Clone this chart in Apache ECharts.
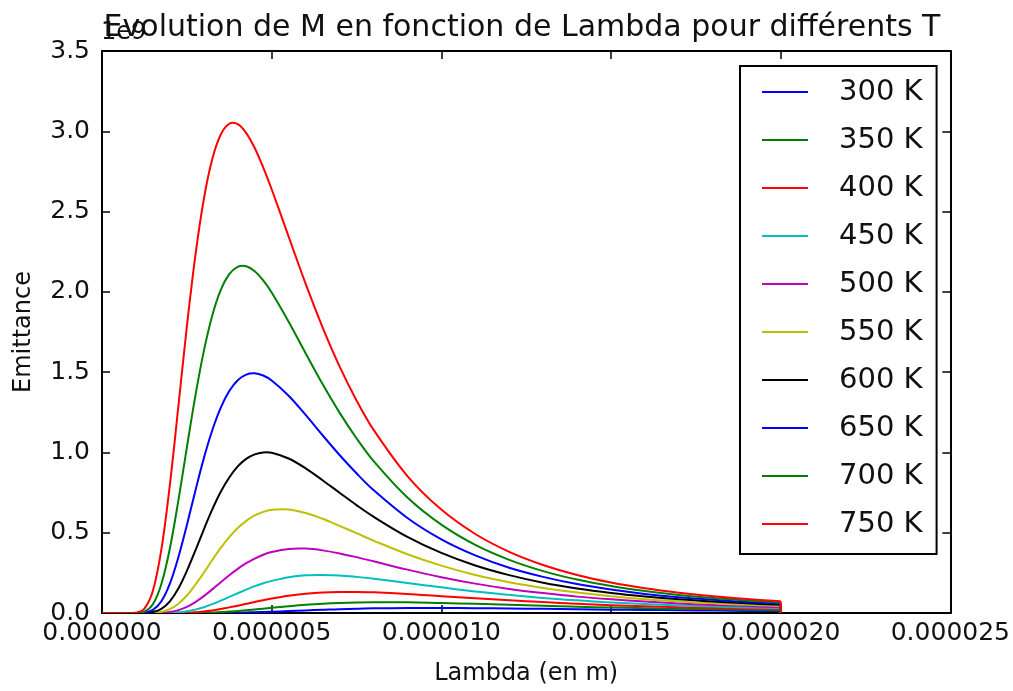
<!DOCTYPE html>
<html>
<head>
<meta charset="utf-8">
<script src="https://cdn.jsdelivr.net/npm/echarts@6/dist/echarts.min.js"></script>
<style>
  html, body { margin: 0; padding: 0; background: #fff; }
  #main { width: 1013px; height: 691px; }
</style>
</head>
<body>
<div id="main"></div>
<script>
// wavelength in micrometres (axis labels are shown in metres)
var lambdaUm = [0, 0.5, 1, 1.25, 1.5, 1.75, 2, 2.25, 2.5, 2.75, 3, 3.25, 3.5, 3.75, 4, 4.25, 4.5, 4.75, 5,
  5.5, 6, 6.5, 7, 7.5, 8, 9, 10, 11, 12, 13, 14, 15, 16, 17, 18, 19, 20, 20];

// emittance, in units of 1e9
var m300 = [0, 0, 0, 0, 0, 0, 0, 0, 0, 0, 0, 0, 0.001, 0.001, 0.002, 0.003, 0.005, 0.006, 0.008,
  0.012, 0.016, 0.020, 0.024, 0.026, 0.029, 0.031, 0.031, 0.030, 0.028, 0.026, 0.023, 0.021, 0.019, 0.017, 0.015, 0.013, 0.012, 0];
var m350 = [0, 0, 0, 0, 0, 0, 0, 0, 0, 0.001, 0.002, 0.003, 0.006, 0.009, 0.013, 0.017, 0.022, 0.027, 0.032,
  0.042, 0.051, 0.058, 0.063, 0.066, 0.067, 0.067, 0.062, 0.057, 0.051, 0.045, 0.039, 0.034, 0.030, 0.026, 0.023, 0.020, 0.017, 0];
var m400 = [0, 0, 0, 0, 0, 0, 0, 0.001, 0.002, 0.005, 0.010, 0.016, 0.025, 0.035, 0.045, 0.057, 0.069, 0.080, 0.090,
  0.108, 0.120, 0.128, 0.131, 0.131, 0.129, 0.119, 0.105, 0.092, 0.079, 0.068, 0.058, 0.049, 0.042, 0.036, 0.031, 0.027, 0.023, 0];
var m450 = [0, 0, 0, 0, 0, 0, 0.001, 0.004, 0.011, 0.021, 0.036, 0.055, 0.077, 0.100, 0.123, 0.146, 0.167, 0.185, 0.200,
  0.223, 0.235, 0.237, 0.234, 0.225, 0.214, 0.187, 0.160, 0.134, 0.113, 0.094, 0.079, 0.066, 0.056, 0.047, 0.040, 0.035, 0.030, 0];
var m500 = [0, 0, 0, 0, 0, 0.002, 0.007, 0.018, 0.038, 0.068, 0.105, 0.147, 0.192, 0.235, 0.275, 0.310, 0.339, 0.363, 0.380,
  0.399, 0.401, 0.390, 0.371, 0.348, 0.322, 0.270, 0.223, 0.183, 0.150, 0.124, 0.102, 0.085, 0.071, 0.059, 0.050, 0.043, 0.036, 0];
var m550 = [0, 0, 0, 0, 0.001, 0.007, 0.024, 0.058, 0.109, 0.176, 0.251, 0.330, 0.405, 0.472, 0.529, 0.574, 0.608, 0.630, 0.643,
  0.645, 0.623, 0.587, 0.543, 0.497, 0.451, 0.366, 0.295, 0.237, 0.192, 0.156, 0.127, 0.104, 0.086, 0.072, 0.060, 0.051, 0.043, 0];
var m600 = [0, 0, 0, 0.001, 0.006, 0.026, 0.073, 0.153, 0.262, 0.389, 0.520, 0.645, 0.755, 0.844, 0.913, 0.960, 0.988, 1.000, 0.998,
  0.962, 0.901, 0.827, 0.749, 0.672, 0.600, 0.474, 0.374, 0.296, 0.236, 0.189, 0.153, 0.125, 0.103, 0.085, 0.071, 0.060, 0.051, 0];
var m650 = [0, 0, 0, 0.003, 0.019, 0.073, 0.183, 0.347, 0.547, 0.760, 0.963, 1.138, 1.279, 1.382, 1.450, 1.485, 1.493, 1.479, 1.448,
  1.353, 1.234, 1.107, 0.984, 0.870, 0.766, 0.592, 0.459, 0.359, 0.282, 0.225, 0.180, 0.146, 0.119, 0.098, 0.082, 0.069, 0.058, 0];
var m700 = [0, 0, 0, 0.009, 0.055, 0.181, 0.402, 0.700, 1.030, 1.351, 1.631, 1.853, 2.012, 2.110, 2.156, 2.159, 2.128, 2.071, 1.996,
  1.814, 1.618, 1.426, 1.248, 1.088, 0.947, 0.719, 0.550, 0.424, 0.331, 0.261, 0.208, 0.168, 0.137, 0.112, 0.093, 0.078, 0.065, 0];
var m750 = [0, 0, 0.002, 0.027, 0.138, 0.396, 0.798, 1.286, 1.782, 2.224, 2.577, 2.827, 2.980, 3.047, 3.044, 2.989, 2.896, 2.775, 2.639,
  2.344, 2.051, 1.779, 1.536, 1.324, 1.142, 0.853, 0.644, 0.492, 0.381, 0.299, 0.237, 0.190, 0.154, 0.126, 0.104, 0.087, 0.073, 0];

var names = ['300 K', '350 K', '400 K', '450 K', '500 K', '550 K', '600 K', '650 K', '700 K', '750 K'];
var values = [m300, m350, m400, m450, m500, m550, m600, m650, m700, m750];
var colors = ['#0000ff', '#008000', '#ff0000', '#00bfbf', '#bf00bf', '#bfbf00', '#000000', '#0000ff', '#008000', '#ff0000'];

var FONT = 'DejaVu Sans';

// each curve is one custom item: a spline through the points (via the axes),
// plus the straight drop to zero at the end of the range
function curve(vals, color) {
  return function (params, api) {
    var pts = lambdaUm.map(function (x, j) { return api.coord([x, vals[j]]); });
    var n = pts.length;
    return {
      type: 'group',
      children: [{
        type: 'polyline',
        shape: { points: pts.slice(0, n - 1), smooth: 0.35 },
        style: { stroke: color, lineWidth: 2, fill: null, lineJoin: 'round' }
      }, {
        type: 'line',
        shape: { x1: pts[n - 2][0], y1: pts[n - 2][1], x2: pts[n - 1][0], y2: pts[n - 1][1] },
        style: { stroke: color, lineWidth: 2 }
      }]
    };
  };
}

var series = names.map(function (n, i) {
  return {
    name: n,
    type: 'custom',
    coordinateSystem: 'cartesian2d',
    clip: true,
    silent: true,
    animation: false,
    itemStyle: { color: colors[i] },
    renderItem: curve(values[i], colors[i]),
    data: [[0, 0]]
  };
});

var tick = { show: true, inside: true, length: 8, lineStyle: { color: '#000', width: 1.5 } };
var line = { show: true, onZero: false, lineStyle: { color: '#000', width: 2 } };

var chart = echarts.init(document.getElementById('main'));
chart.setOption({
  backgroundColor: '#fff',
  animation: false,
  title: {
    text: 'Evolution de M en fonction de Lambda pour différents T',
    left: 517,
    textAlign: 'center',
    top: 8,
    textStyle: { fontFamily: FONT, fontSize: 30, fontWeight: 'normal', color: '#111' }
  },
  graphic: [{
    type: 'text', left: 101, top: 21,
    style: { text: '1e9', fontFamily: FONT, fontSize: 24, fill: '#111' }
  }],
  legend: {
    orient: 'vertical',
    left: 740,
    top: 66,
    icon: 'rect',
    itemWidth: 46,
    itemHeight: 2,
    itemGap: 18,
    padding: [11, 14, 15, 22],
    borderColor: '#000',
    borderWidth: 2,
    backgroundColor: '#fff',
    data: names,
    textStyle: { fontFamily: FONT, fontSize: 29, color: '#111', lineHeight: 30, padding: [0, 0, 0, 26] }
  },
  grid: { left: 102, right: 60, top: 51, bottom: 74, containLabel: false },
  xAxis: [{
    type: 'value', min: 0, max: 25, interval: 5,
    name: 'Lambda (en m)', nameLocation: 'middle', nameGap: 49,
    nameTextStyle: { fontFamily: FONT, fontSize: 24, color: '#111' },
    axisLine: line, axisTick: tick, splitLine: { show: false },
    axisLabel: {
      margin: 8, fontFamily: FONT, fontSize: 25, color: '#111',
      formatter: function (v) { return (v * 1e-6).toFixed(6); }
    }
  }, {
    type: 'value', min: 0, max: 25, interval: 5, position: 'top',
    axisLine: line, axisTick: tick, splitLine: { show: false }, axisLabel: { show: false }
  }],
  yAxis: [{
    type: 'value', min: 0, max: 3.5, interval: 0.5,
    name: 'Emittance', nameLocation: 'middle', nameGap: 66, nameRotate: 90,
    nameTextStyle: { fontFamily: FONT, fontSize: 24, color: '#111' },
    axisLine: line, axisTick: tick, splitLine: { show: false },
    axisLabel: {
      margin: 12, fontFamily: FONT, fontSize: 25, color: '#111',
      formatter: function (v) { return v.toFixed(1); }
    }
  }, {
    type: 'value', min: 0, max: 3.5, interval: 0.5, position: 'right',
    axisLine: line, axisTick: tick, splitLine: { show: false }, axisLabel: { show: false }
  }],
  series: series
});
</script>
</body>
</html>
